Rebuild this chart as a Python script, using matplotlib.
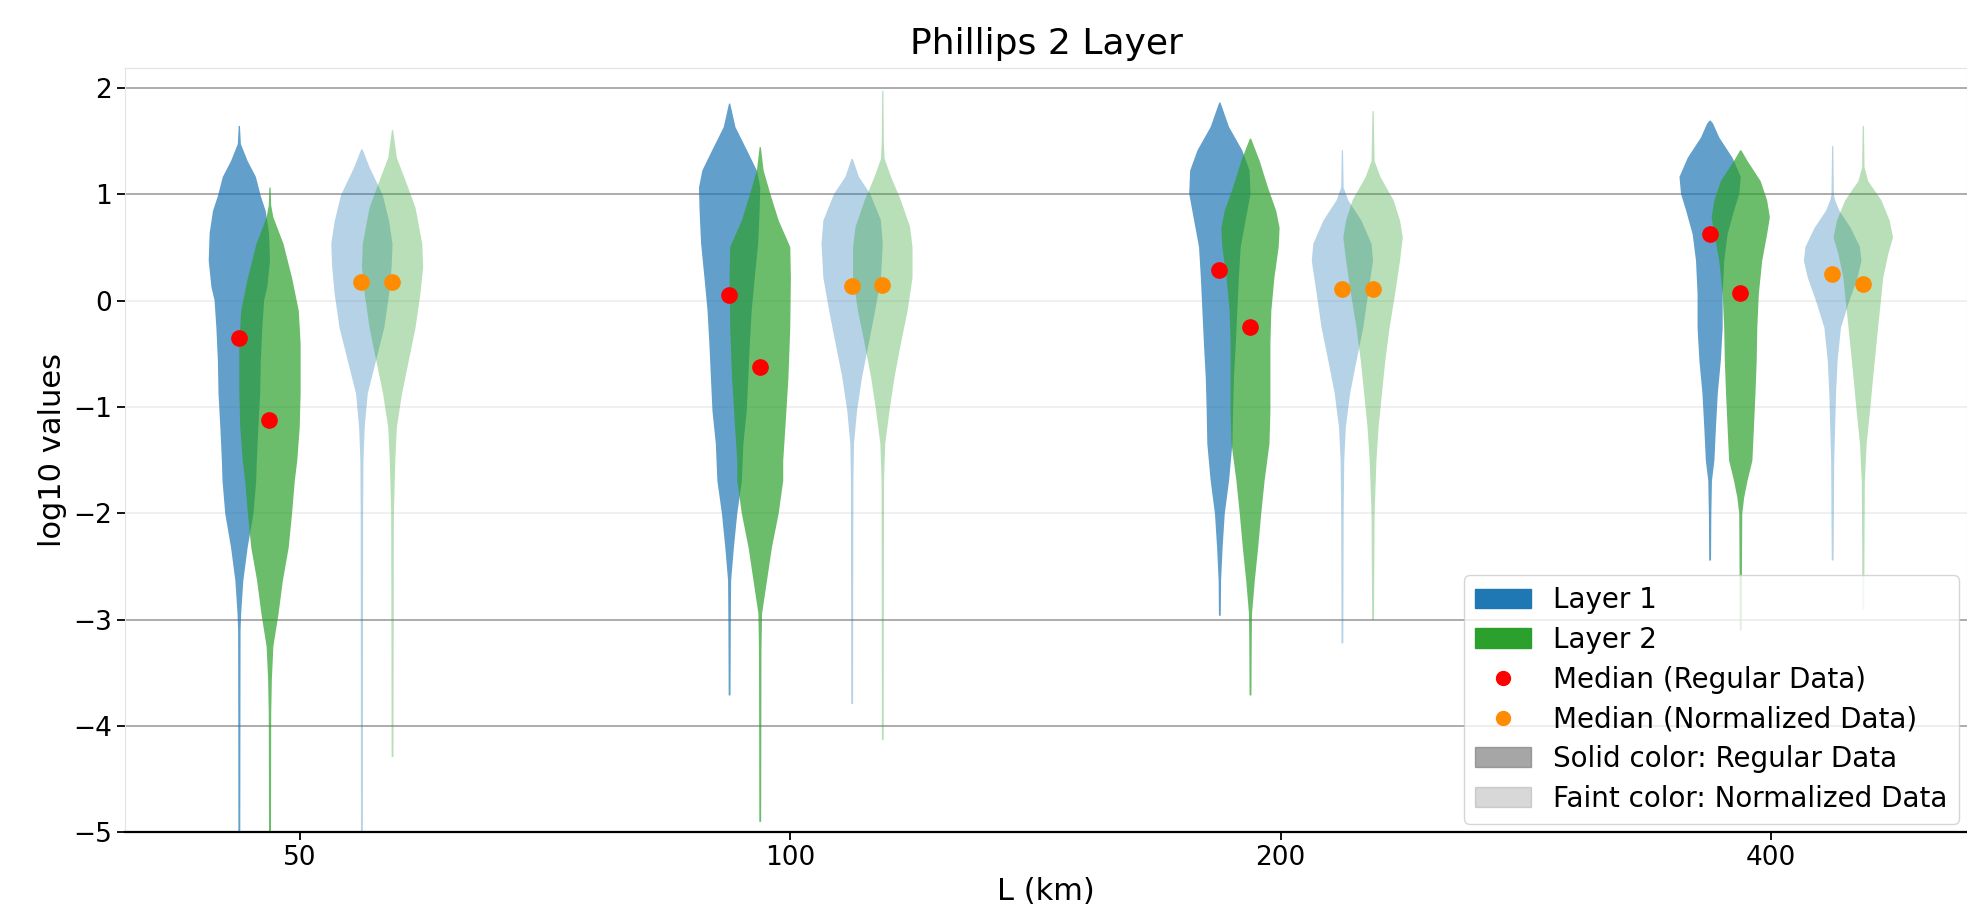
import numpy as np
import matplotlib
matplotlib.use("Agg")
import matplotlib.pyplot as plt
from matplotlib.patches import Patch
from matplotlib.lines import Line2D

# x categories (L in km)
categories = ["50", "100", "200", "400"]

# medians (log10)
median_reg_l1 = [-0.35, 0.05, 0.29, 0.63]
median_reg_l2 = [-1.12, -0.62, -0.25, 0.07]
median_norm_l1 = [0.175, 0.14, 0.11, 0.25]
median_norm_l2 = [0.175, 0.15, 0.11, 0.155]

# violin profiles: (log10 level, relative density)
reg_l1_50 = ([1.65, 1.48, 1.32, 1.17, 0.99, 0.85, 0.64, 0.38, 0.13, 0.01, -0.25, -0.56, -0.87, -1.19, -1.5, -1.69, -2.0, -2.32, -2.63, -2.94, -3.1, -4.0, -5.3],
             [0.02, 0.05, 0.27, 0.54, 0.70, 0.86, 0.97, 1.0, 0.91, 0.81, 0.75, 0.70, 0.68, 0.62, 0.57, 0.55, 0.46, 0.27, 0.13, 0.06, 0.04, 0.035, 0.03])
reg_l2_50 = ([1.07, 0.9, 0.79, 0.54, 0.22, -0.09, -0.4, -0.87, -1.19, -1.5, -1.69, -2.0, -2.32, -2.63, -2.94, -3.25, -3.57, -3.88, -5.3],
             [0.02, 0.04, 0.11, 0.44, 0.72, 0.94, 1.0, 1.0, 0.97, 0.89, 0.81, 0.72, 0.61, 0.42, 0.28, 0.11, 0.06, 0.04, 0.03])
norm_l1_50 = ([1.43, 1.26, 1.0, 0.75, 0.54, 0.32, 0.07, -0.25, -0.56, -0.87, -1.19, -1.5, -2.0, -5.3],
              [0.02, 0.25, 0.68, 0.89, 1.0, 0.97, 0.89, 0.73, 0.46, 0.19, 0.09, 0.05, 0.04, 0.03])
norm_l2_50 = ([1.61, 1.35, 1.1, 0.88, 0.54, 0.32, 0.07, -0.25, -0.56, -0.87, -1.19, -1.5, -2.0, -4.29],
              [0.02, 0.14, 0.47, 0.75, 0.97, 1.0, 0.91, 0.75, 0.53, 0.31, 0.14, 0.09, 0.045, 0.03])

reg_l1_100 = ([1.86, 1.64, 1.39, 1.23, 1.07, 0.85, 0.54, 0.22, -0.09, -0.40, -0.72, -1.03, -1.34, -1.69, -2.0, -2.32, -2.63, -3.0, -3.71],
              [0.02, 0.19, 0.62, 0.89, 1.0, 0.98, 0.93, 0.82, 0.72, 0.66, 0.61, 0.56, 0.45, 0.40, 0.25, 0.14, 0.05, 0.04, 0.03])
reg_l2_100 = ([1.45, 1.23, 1.01, 0.76, 0.51, 0.22, -0.25, -0.72, -1.19, -1.5, -1.69, -2.0, -2.32, -2.63, -2.94, -3.3, -4.9],
              [0.02, 0.11, 0.33, 0.60, 0.98, 1.0, 0.98, 0.92, 0.82, 0.75, 0.75, 0.60, 0.38, 0.22, 0.06, 0.04, 0.03])
norm_l1_100 = ([1.34, 1.17, 1.01, 0.76, 0.54, 0.22, -0.09, -0.40, -0.72, -1.03, -1.34, -1.7, -3.79],
               [0.02, 0.22, 0.59, 0.94, 1.0, 0.94, 0.75, 0.54, 0.32, 0.16, 0.06, 0.04, 0.03])
norm_l2_100 = ([1.98, 1.5, 1.34, 1.17, 0.95, 0.70, 0.51, 0.22, -0.09, -0.40, -0.72, -1.03, -1.34, -1.7, -4.13],
               [0.02, 0.035, 0.06, 0.27, 0.59, 0.89, 0.97, 0.97, 0.81, 0.59, 0.38, 0.22, 0.08, 0.04, 0.03])

reg_l1_200 = ([1.87, 1.64, 1.42, 1.23, 1.01, 0.76, 0.51, 0.22, -0.09, -0.40, -0.72, -1.03, -1.34, -1.69, -2.0, -2.32, -2.63, -2.96],
              [0.02, 0.30, 0.73, 0.97, 1.0, 0.84, 0.68, 0.62, 0.57, 0.52, 0.46, 0.43, 0.41, 0.30, 0.16, 0.09, 0.04, 0.03])
reg_l2_200 = ([1.53, 1.32, 1.07, 0.85, 0.69, 0.51, 0.22, -0.09, -0.40, -0.72, -1.03, -1.34, -1.69, -2.0, -2.32, -2.63, -2.94, -3.2, -3.71],
              [0.02, 0.30, 0.57, 0.84, 0.95, 0.92, 0.78, 0.68, 0.65, 0.65, 0.65, 0.62, 0.46, 0.35, 0.25, 0.14, 0.05, 0.04, 0.03])
norm_l1_200 = ([1.42, 1.07, 0.95, 0.76, 0.54, 0.38, 0.07, -0.25, -0.56, -0.87, -1.19, -1.5, -2.0, -3.22],
               [0.02, 0.04, 0.19, 0.62, 0.95, 1.0, 0.84, 0.68, 0.46, 0.25, 0.11, 0.06, 0.04, 0.03])
norm_l2_200 = ([1.79, 1.32, 1.17, 0.95, 0.76, 0.60, 0.38, 0.07, -0.25, -0.56, -0.87, -1.19, -1.5, -2.0, -2.5, -3.0],
               [0.02, 0.05, 0.24, 0.67, 0.88, 0.97, 0.88, 0.72, 0.54, 0.40, 0.29, 0.18, 0.11, 0.05, 0.04, 0.03])

reg_l1_400 = ([1.70, 1.67, 1.54, 1.35, 1.17, 1.01, 0.85, 0.63, 0.38, 0.07, -0.25, -0.56, -0.87, -1.19, -1.5, -1.69, -2.0, -2.44],
              [0.02, 0.10, 0.30, 0.73, 1.0, 0.95, 0.78, 0.57, 0.46, 0.41, 0.41, 0.35, 0.25, 0.19, 0.14, 0.06, 0.04, 0.03])
reg_l2_400 = ([1.42, 1.32, 1.13, 0.95, 0.79, 0.63, 0.38, 0.07, -0.25, -0.56, -0.87, -1.19, -1.5, -1.69, -1.85, -2.0, -2.5, -3.1],
              [0.02, 0.22, 0.65, 0.86, 0.95, 0.86, 0.70, 0.59, 0.54, 0.52, 0.48, 0.43, 0.38, 0.22, 0.11, 0.05, 0.04, 0.03])
norm_l1_400 = ([1.46, 1.0, 0.95, 0.85, 0.69, 0.51, 0.38, 0.22, 0.0, -0.25, -0.56, -0.87, -1.19, -1.5, -2.0, -2.44],
               [0.02, 0.04, 0.08, 0.22, 0.59, 0.89, 0.94, 0.81, 0.54, 0.27, 0.16, 0.11, 0.08, 0.05, 0.04, 0.03])
norm_l2_400 = ([1.65, 1.26, 1.13, 0.95, 0.76, 0.60, 0.44, 0.22, -0.09, -0.40, -0.72, -1.03, -1.34, -1.7, -2.2, -2.9],
               [0.02, 0.04, 0.16, 0.59, 0.86, 0.97, 0.81, 0.65, 0.54, 0.43, 0.32, 0.22, 0.11, 0.05, 0.04, 0.03])

reg_l1 = [reg_l1_50, reg_l1_100, reg_l1_200, reg_l1_400]
reg_l2 = [reg_l2_50, reg_l2_100, reg_l2_200, reg_l2_400]
norm_l1 = [norm_l1_50, norm_l1_100, norm_l1_200, norm_l1_400]
norm_l2 = [norm_l2_50, norm_l2_100, norm_l2_200, norm_l2_400]

BLUE = "#1f77b4"
GREEN = "#2ca02c"
half_width = 0.0625


def violin(ax, pos, profile, color, alpha):
    levels, dens = profile
    levels = np.array(levels)
    dens = np.array(dens) * half_width
    ax.fill_betweenx(levels, pos - dens, pos + dens, color=color, alpha=alpha,
                     linewidth=0, zorder=2)


fig = plt.figure(figsize=(19.67, 9.22), dpi=100)
ax = fig.add_axes([0.0636, 0.0976, 0.9364, 0.8286])

x = np.arange(len(categories))
for i in x:
    violin(ax, i - 0.125, reg_l1[i], BLUE, 0.7)
    violin(ax, i - 0.0625, reg_l2[i], GREEN, 0.7)
    violin(ax, i + 0.125, norm_l1[i], BLUE, 0.33)
    violin(ax, i + 0.1875, norm_l2[i], GREEN, 0.33)

ax.plot(x - 0.125, median_reg_l1, "o", color="red", ms=11, zorder=4)
ax.plot(x - 0.0625, median_reg_l2, "o", color="red", ms=11, zorder=4)
ax.plot(x + 0.125, median_norm_l1, "o", color="darkorange", ms=11, zorder=4)
ax.plot(x + 0.1875, median_norm_l2, "o", color="darkorange", ms=11, zorder=4)

ax.set_xlim(-0.357, 3.4)
ax.set_ylim(-5, 2.19)
ax.set_xticks(x)
ax.set_xticklabels(categories)
ax.set_yticks(range(-5, 3))

# horizontal grid (the 0, -1, -2 lines are much lighter in the original)
for yv in range(-4, 3):
    c = "#efefef" if yv in (0, -1, -2) else "#a6a6a6"
    ax.axhline(yv, color=c, linewidth=1.3, zorder=0)

for side in ("left", "top", "right"):
    ax.spines[side].set_color("#e4e4e4")
ax.spines["bottom"].set_color("black")
ax.spines["bottom"].set_linewidth(1.6)
ax.tick_params(axis="both", labelsize=19, length=6, width=1.3)

ax.set_xlabel("L (km)", fontsize=22)
ax.set_ylabel("log10 values", fontsize=22)
ax.set_title("Phillips 2 Layer", fontsize=26, pad=10)

handles = [
    Patch(color=BLUE, label="Layer 1"),
    Patch(color=GREEN, label="Layer 2"),
    Line2D([], [], marker="o", linestyle="", color="red", ms=10, label="Median (Regular Data)"),
    Line2D([], [], marker="o", linestyle="", color="darkorange", ms=10, label="Median (Normalized Data)"),
    Patch(color="gray", alpha=0.7, label="Solid color: Regular Data"),
    Patch(color="gray", alpha=0.3, label="Faint color: Normalized Data"),
]
ax.legend(handles=handles, loc="lower right", fontsize=20, labelspacing=0.42,
          borderaxespad=0.3)

fig.savefig("out.png", dpi=100)
